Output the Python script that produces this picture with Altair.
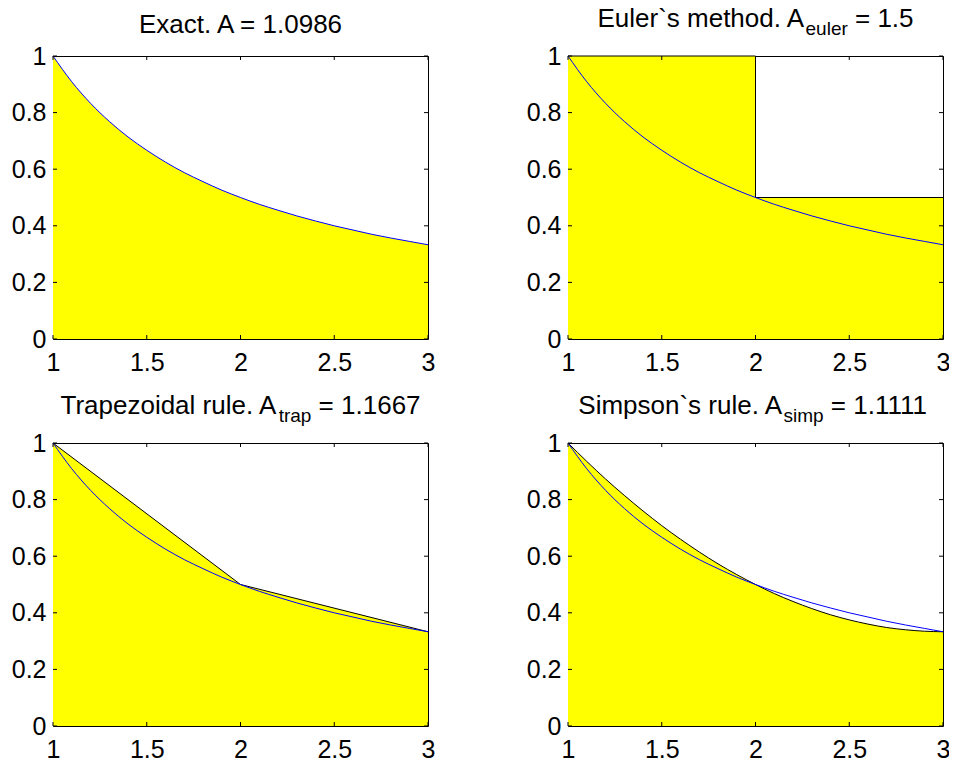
import altair as alt
import pandas as pd

# ---------------- data ----------------
x_vals = [1.0, 1.1, 1.2, 1.3, 1.4, 1.5, 1.6, 1.7, 1.8, 1.9, 2.0,
          2.1, 2.2, 2.3, 2.4, 2.5, 2.6, 2.7, 2.8, 2.9, 3.0]
exact_y = [1.000, 0.909, 0.833, 0.769, 0.714, 0.667, 0.625, 0.588, 0.556, 0.526, 0.500,
           0.476, 0.455, 0.435, 0.417, 0.400, 0.385, 0.370, 0.357, 0.345, 0.333]
simpson_y = [1.000, 0.935, 0.873, 0.815, 0.760, 0.708, 0.660, 0.615, 0.573, 0.535, 0.500,
             0.468, 0.440, 0.415, 0.393, 0.375, 0.360, 0.348, 0.340, 0.335, 0.333]
euler_x = [1.0, 2.0, 3.0]
euler_y = [1.0, 0.5, 0.5]
trap_x = [1.0, 2.0, 3.0]
trap_y = [1.0, 0.5, 0.333]
x_ticks = [1, 1.5, 2, 2.5, 3]
y_ticks = [0, 0.2, 0.4, 0.6, 0.8, 1]

title_exact = "Exact. A = 1.0986"
title_euler = ("Euler`s method. A", "euler", "= 1.5")
title_trap = ("Trapezoidal rule. A", "trap", "= 1.1667")
title_simp = ("Simpson`s rule. A", "simp", "= 1.1111")

# ---------------- layout / style ----------------
W, H = 375, 283
FONT = "Liberation Sans"
TITLE_SIZE = 26
SUB_SIZE = 19
TICK_LEN = 4
YELLOW = "#ffff00"
BLUE = "#0000ff"

# Arial / Liberation Sans advance widths (per 1000 em)
ARIAL = {" ": 278, "`": 333, ".": 278, "=": 584, "A": 667, "E": 667, "S": 667, "T": 611,
         "a": 556, "b": 556, "c": 500, "d": 556, "e": 556, "h": 556, "i": 222, "l": 222,
         "m": 833, "n": 556, "o": 556, "p": 556, "r": 333, "s": 500, "t": 278, "u": 556,
         "x": 500, "z": 500}
for _d in "0123456789":
    ARIAL[_d] = 556


def tw(s, size):
    return sum(ARIAL.get(c, 556) for c in s) / 1000.0 * size


curve_df = pd.DataFrame({"x": x_vals, "y": exact_y, "ys": simpson_y})
euler_df = pd.DataFrame({"x": euler_x, "y": euler_y})
trap_df = pd.DataFrame({"x": trap_x, "y": trap_y})
xt_df = pd.DataFrame({"x": x_ticks})
yt_df = pd.DataFrame({"y": y_ticks})
one = pd.DataFrame({"k": [0]})

X = alt.X("x:Q", scale=alt.Scale(domain=[1, 3], nice=False, zero=False),
          axis=alt.Axis(values=x_ticks, format="~g", ticks=False, domain=False, grid=False,
                        labelPadding=11, labelFlush=False, title=None))
Y = alt.Y("y:Q", scale=alt.Scale(domain=[0, 1], nice=False, zero=False),
          axis=alt.Axis(values=y_ticks, format="~g", ticks=False, domain=False, grid=False,
                        labelPadding=7, labelFlush=False, title=None))
YS = alt.Y("ys:Q", scale=alt.Scale(domain=[0, 1], nice=False, zero=False),
           axis=alt.Axis(values=y_ticks, format="~g", ticks=False, domain=False, grid=False,
                         labelPadding=7, labelFlush=False, title=None))


def tick_layers():
    return [
        alt.Chart(xt_df).mark_rule(color="black", strokeWidth=1).encode(
            x=X, y=alt.value(H), y2=alt.value(H - TICK_LEN)),
        alt.Chart(xt_df).mark_rule(color="black", strokeWidth=1).encode(
            x=X, y=alt.value(0), y2=alt.value(TICK_LEN)),
        alt.Chart(yt_df).mark_rule(color="black", strokeWidth=1).encode(
            y=Y, x=alt.value(0), x2=alt.value(TICK_LEN)),
        alt.Chart(yt_df).mark_rule(color="black", strokeWidth=1).encode(
            y=Y, x=alt.value(W), x2=alt.value(W - TICK_LEN)),
    ]


def simple_title(text):
    return [alt.Chart(one).mark_text(font=FONT, fontSize=TITLE_SIZE, align="center",
                                     baseline="alphabetic", color="black").encode(
        x=alt.value(W / 2), y=alt.value(-23), text=alt.value(text))]


def sub_title(parts):
    main, sub, rest = parts
    gap = tw(" ", TITLE_SIZE)
    w1, w2, w3 = tw(main, TITLE_SIZE), tw(sub, SUB_SIZE), tw(rest, TITLE_SIZE)
    x0 = W / 2 - (w1 + w2 + gap + w3) / 2
    specs = [(main, TITLE_SIZE, x0, -29), (sub, SUB_SIZE, x0 + w1, -21),
             (rest, TITLE_SIZE, x0 + w1 + w2 + gap, -29)]
    return [alt.Chart(one).mark_text(font=FONT, fontSize=fs, align="left",
                                     baseline="alphabetic", color="black").encode(
        x=alt.value(px), y=alt.value(py), text=alt.value(t)) for t, fs, px, py in specs]


def blue_curve():
    return alt.Chart(curve_df).mark_line(color=BLUE, strokeWidth=1, interpolate="monotone").encode(
        x=X, y=Y)


# Exact
p1 = alt.layer(
    alt.Chart(curve_df).mark_area(color=YELLOW, opacity=1, interpolate="monotone").encode(
        x=X, y=Y, y2=alt.datum(0)),
    blue_curve(),
    *tick_layers(),
    *simple_title(title_exact),
).properties(width=W, height=H)

# Euler
p2 = alt.layer(
    alt.Chart(euler_df).mark_area(color=YELLOW, opacity=1, interpolate="step-after").encode(
        x=X, y=Y, y2=alt.datum(0)),
    alt.Chart(euler_df).mark_line(color="black", strokeWidth=1, interpolate="step-after").encode(
        x=X, y=Y),
    blue_curve(),
    *tick_layers(),
    *sub_title(title_euler),
).properties(width=W, height=H)

# Trapezoidal
p3 = alt.layer(
    alt.Chart(trap_df).mark_area(color=YELLOW, opacity=1).encode(x=X, y=Y, y2=alt.datum(0)),
    alt.Chart(trap_df).mark_line(color="black", strokeWidth=1).encode(x=X, y=Y),
    blue_curve(),
    *tick_layers(),
    *sub_title(title_trap),
).properties(width=W, height=H)

# Simpson
p4 = alt.layer(
    alt.Chart(curve_df).mark_area(color=YELLOW, opacity=1, interpolate="monotone").encode(
        x=X, y=YS, y2=alt.datum(0)),
    alt.Chart(curve_df).mark_line(color="black", strokeWidth=1, interpolate="monotone").encode(
        x=X, y=YS),
    blue_curve(),
    *tick_layers(),
    *sub_title(title_simp),
).properties(width=W, height=H)

chart = alt.concat(
    p1, p2, p3, p4, columns=2,
    spacing=alt.RowColnumber(row=104, column=140), bounds="flush"
).properties(
    padding={"left": 2, "top": -3, "right": -2, "bottom": -5}
).configure_axis(
    labelFont=FONT, labelFontSize=25, labelColor="black"
).configure_view(
    stroke="black", strokeWidth=1
)

chart.save("out.html", embed_options={"renderer": "svg", "actions": False})
